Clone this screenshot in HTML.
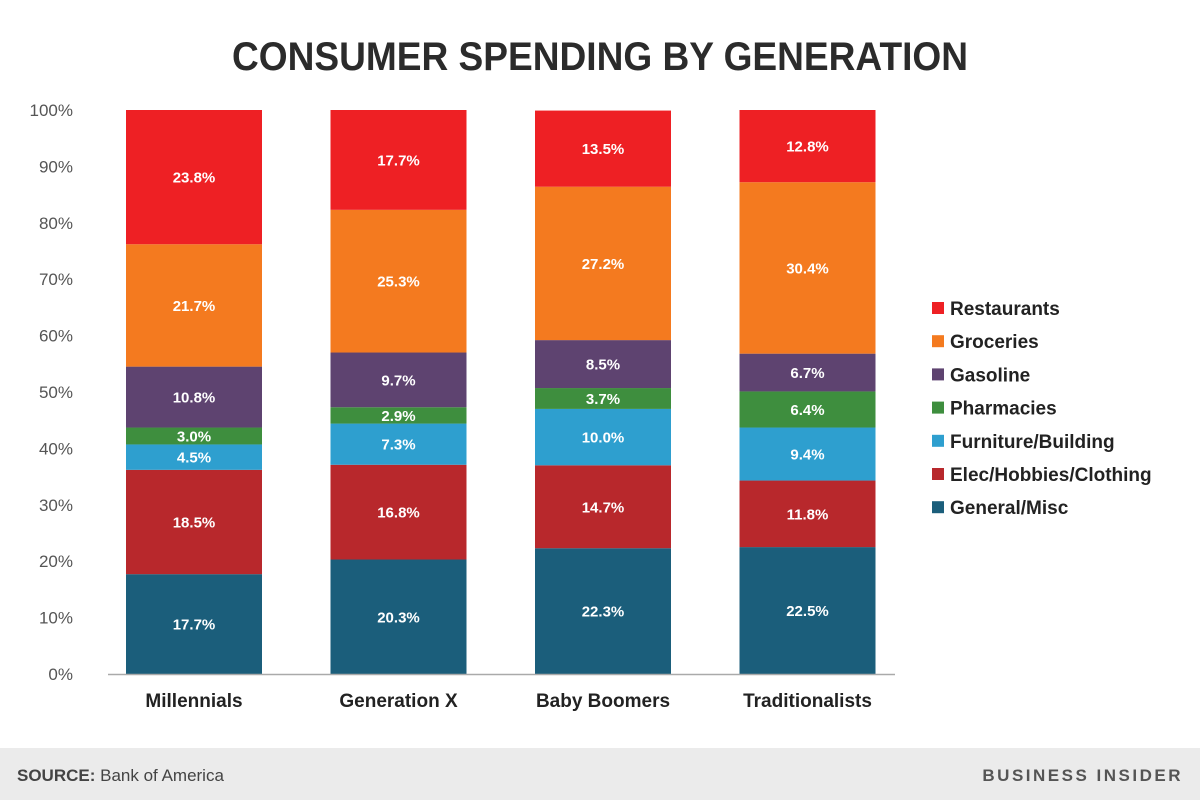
<!DOCTYPE html>
<html><head><meta charset="utf-8"><style>
body{margin:0;background:#fff;}
svg{display:block;font-family:"Liberation Sans",sans-serif;}
</style></head><body>
<svg id="chart" width="1200" height="800" viewBox="0 0 1200 800">
<text x="600" y="70" text-anchor="middle" font-size="40" font-weight="bold" fill="#2b2b2b" textLength="736" lengthAdjust="spacingAndGlyphs">CONSUMER SPENDING BY GENERATION</text>
<g id="yaxis"></g>
<g id="bars"></g>
<g id="xaxis"></g>
<g id="legend"></g>
<rect x="0" y="748" width="1200" height="52" fill="#ebebeb"/>
<text x="17" y="781" font-size="17" fill="#444"><tspan font-weight="bold">SOURCE:</tspan> Bank of America</text>
<text x="1183" y="781" text-anchor="end" font-size="17" font-weight="bold" fill="#555" letter-spacing="2.5">BUSINESS INSIDER</text>
</svg>
<script>
const categories=["Millennials","Generation X","Baby Boomers","Traditionalists"];
const seriesNames=["General/Misc","Elec/Hobbies/Clothing","Furniture/Building","Pharmacies","Gasoline","Groceries","Restaurants"];
const generalMisc=[17.7,20.3,22.3,22.5];
const elecHobbies=[18.5,16.8,14.7,11.8];
const furniture=[4.5,7.3,10.0,9.4];
const pharmacies=[3.0,2.9,3.7,6.4];
const gasoline=[10.8,9.7,8.5,6.7];
const groceries=[21.7,25.3,27.2,30.4];
const restaurants=[23.8,17.7,13.5,12.8];
const yTicks=[0,10,20,30,40,50,60,70,80,90,100];
const series=[generalMisc,elecHobbies,furniture,pharmacies,gasoline,groceries,restaurants];
const colors=["#1b5e7b","#b8282c","#2e9fcf","#3e8e3e","#5e4370","#f47a1f","#ee2024"];
const NS="http://www.w3.org/2000/svg";
const y0=674,y1=110;
const yScale=v=>y0-(y0-y1)*v/100;
const xStart=126,step=204.5,bw=136;
const xScale=i=>xStart+i*step;
function mk(tag,attrs,parent,text){const e=document.createElementNS(NS,tag);for(const k in attrs)e.setAttribute(k,attrs[k]);if(text!==undefined)e.textContent=text;parent.appendChild(e);return e;}
const ya=document.getElementById('yaxis');
yTicks.forEach(t=>{const e=mk('text',{x:73,y:yScale(t)+6,'text-anchor':'end','font-size':17,fill:'#555'},ya,t+'%');

});
const bars=document.getElementById('bars');
categories.forEach((c,i)=>{let cum=0;series.forEach((s,j)=>{const v=s[i];const top=yScale(cum+v),bot=yScale(cum);
const r=mk('rect',{x:xScale(i),y:top,width:bw,height:bot-top,fill:colors[j]},bars);


const t=mk('text',{x:xScale(i)+bw/2,y:(top+bot)/2+5.5,'text-anchor':'middle','font-size':15,'font-weight':'bold',fill:'#fff'},bars,v.toFixed(1)+'%');


cum+=v;});});
const xa=document.getElementById('xaxis');
const ln=mk('line',{x1:108,x2:895,y1:y0+0.5,y2:y0+0.5,stroke:'#aaa','stroke-width':1.5},xa);


categories.forEach((c,i)=>{const e=mk('text',{x:xScale(i)+bw/2,y:707,'text-anchor':'middle','font-size':19,'font-weight':'bold',fill:'#222'},xa,c);

});
const lg=document.getElementById('legend');
for(let k=0;k<7;k++){const j=6-k;const y=308+k*33.2;
const sq=mk('rect',{x:932,y:y-6,width:12,height:12,fill:colors[j]},lg);


const t=mk('text',{x:950,y:y+7,'font-size':19,'font-weight':'bold',fill:'#222'},lg,seriesNames[j]);

}
</script>
</body></html>
